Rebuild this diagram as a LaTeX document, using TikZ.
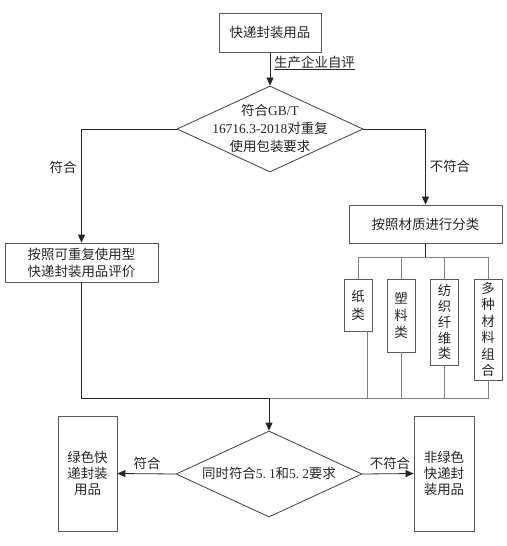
\documentclass[tikz,border=0pt]{standalone}
\usepackage{fontspec}
\setmainfont{Liberation Serif}
\newfontfamily\cjk{Noto Sans CJK SC}
\usetikzlibrary{shapes.geometric,arrows.meta}
\tikzset{
  box/.style={draw=black!65, line width=0.8bp, inner sep=0pt, align=center,
    text=black!85, font=\cjk\fontsize{13.5}{17}\selectfont},
  dia/.style={draw=black!75, line width=0.8bp, diamond, inner sep=0pt},
  dtext/.style={align=center, inner sep=0pt, text=black!85, font=\fontsize{13.5}{18}\selectfont},
  lbl/.style={inner sep=0pt, text=black!85, font=\cjk\fontsize{13.5}{15}\selectfont},
  conn/.style={draw=black!85, line width=0.8bp},
  branch/.style={draw=black!50, line width=0.8bp},
  arr/.style={conn, -{Triangle[length=8bp,width=7bp]}},
}
\begin{document}
\begin{tikzpicture}[x=1bp,y=-1bp]
\useasboundingbox (0,0) rectangle (507,546);
% nodes
\node[box, minimum width=102bp, minimum height=39bp] (top) at (270,32.5) {快递封装用品};
\node[dia, minimum width=186bp, minimum height=86bp] (d1) at (270,129) {};
\node[dtext] (d1t) at (270,128) {{\cjk 符合}GB/T\\16716.3-2018{\cjk 对重复}\\{\cjk 使用包装要求}};
\node[box, minimum width=153bp, minimum height=39bp] (L1) at (81.5,262.5) {按照可重复使用型\\快递封装用品评价};
\node[box, minimum width=153bp, minimum height=38bp] (R1) at (425.5,224) {按照材质进行分类};
\node[box, minimum width=28bp, minimum height=52bp, font=\cjk\fontsize{13.5}{18}\selectfont] (zhi) at (358,305) {纸\\类};
\node[box, minimum width=28bp, minimum height=73bp, font=\cjk\fontsize{13.5}{17}\selectfont] (su) at (401,315.5) {塑\\料\\类};
\node[box, minimum width=28bp, minimum height=86bp, font=\cjk\fontsize{13.5}{16}\selectfont] (fang) at (444.5,322) {纺\\织\\纤\\维\\类};
\node[box, minimum width=28bp, minimum height=101bp, font=\cjk\fontsize{13.5}{16.6}\selectfont] (duo) at (488,329.5) {多\\种\\材\\料\\组\\合};
\node[dia, minimum width=186bp, minimum height=86bp] (d2) at (269,474) {};
\node[dtext] (d2t) at (269,473) {{\cjk 同时符合}5.\hspace{3bp}1{\cjk 和}5.\hspace{3bp}2{\cjk 要求}};
\node[box, minimum width=59bp, minimum height=115bp, font=\cjk\fontsize{13.5}{16}\selectfont] (G) at (87.5,473.5) {绿色快\\递封装\\用品};
\node[box, minimum width=60bp, minimum height=115bp, font=\cjk\fontsize{13.5}{16}\selectfont] (NG) at (444,473.5) {非绿色\\快递封\\装用品};
% labels
\node[lbl, anchor=west] (lself) at (274,63) {\underline{生产企业自评}};
\node[lbl] (lyes1) at (63,167) {符合};
\node[lbl] (lno1) at (450,166) {不符合};
\node[lbl] (lyes2) at (147,463) {符合};
\node[lbl] (lno2) at (390,463) {不符合};
% coordinates
\coordinate (busL) at (358,257);
\coordinate (busR) at (488,257);
\coordinate (bot) at (269,398);
% connectors
\draw[arr] (top.south) -- (d1.north);
\draw[arr] (d1.west) -- (L1.north |- d1.west) -- (L1.north);
\draw[arr] (d1.east) -- (R1.north |- d1.east) -- (R1.north);
\draw[conn] (R1.south) -- (R1.south |- busL);
\draw[branch] (busL) -- (busR);
\draw[branch] (busL) -- (zhi.north);
\draw[branch] (su.north |- busL) -- (su.north);
\draw[branch] (fang.north |- busL) -- (fang.north);
\draw[branch] (busR) -- (duo.north);
\draw[conn] (L1.south) -- (L1.south |- bot) -- (bot);
\draw[branch] (bot) -- (duo.south |- bot) -- (duo.south);
\draw[branch] ([xshift=9bp]zhi.south) -- ([xshift=9bp]zhi.south |- bot);
\draw[branch] (su.south) -- (su.south |- bot);
\draw[branch] (fang.south) -- (fang.south |- bot);
\draw[arr] (bot) -- (d2.north);
\draw[arr] (d2.west) -- (G.east);
\draw[arr] (d2.east) -- (NG.west);
\end{tikzpicture}
\end{document}
